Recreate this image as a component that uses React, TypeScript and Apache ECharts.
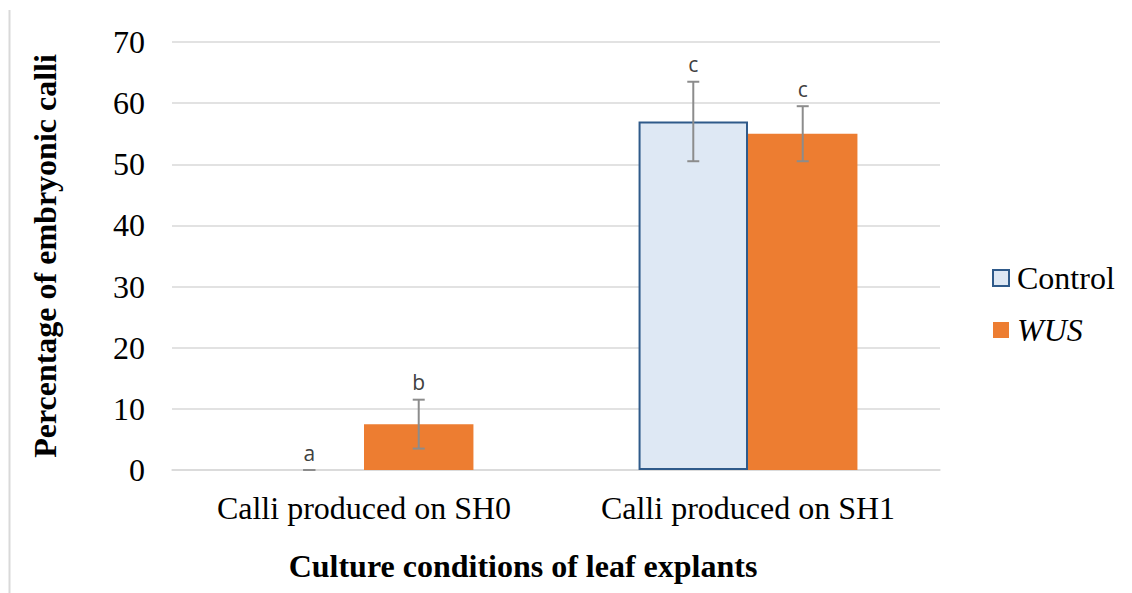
import React, { useEffect, useRef } from "react";
import * as echarts from "echarts";

const categories = ["Calli produced on SH0", "Calli produced on SH1"];
const seriesNames = ["Control", "WUS"];
const controlValues = [0, 57];
const wusValues = [7.5, 55];
const controlErrors = [0, 6.5];
const wusErrors = [4, 4.5];
const controlLetters = ["a", "c"];
const wusLetters = ["b", "c"];
const yTicks = [0, 10, 20, 30, 40, 50, 60, 70];

const GAP = 0.43;
const SERIF = "Liberation Serif";
const FS = 32;

export default function App() {
  const ref = useRef<HTMLDivElement>(null);
  useEffect(() => {
    document.body.style.margin = "0";
    const chart = echarts.init(ref.current!, null, { renderer: "svg" });
    const errData: any[] = [];
    [controlValues, wusValues].forEach((vals, s) => {
      const errs = s === 0 ? controlErrors : wusErrors;
      const letters = s === 0 ? controlLetters : wusLetters;
      vals.forEach((v, i) => {
        errData.push([i, v - errs[i], v + errs[i], s, letters[i]]);
      });
    });
    chart.setOption({
      animation: false,
      textStyle: { fontFamily: SERIF },
      grid: { left: 172, right: 192, top: 42, bottom: 123, outerBoundsMode: "none", containLabel: false },
      legend: {
        orient: "vertical",
        left: 992,
        top: 262,
        padding: 0,
        icon: "rect",
        itemWidth: 16,
        itemHeight: 16,
        itemGap: 20,
        data: seriesNames.map((n) => ({
          name: n,
          textStyle: {
            fontFamily: SERIF,
            fontSize: FS,
            color: "#000",
            fontStyle: n === "WUS" ? "italic" : "normal",
            padding: [0, 0, 0, 3],
          },
        })),
        textStyle: { fontFamily: SERIF, fontSize: FS, color: "#000" },
      },
      xAxis: {
        type: "category",
        data: categories,
        axisTick: { show: false },
        axisLine: { lineStyle: { color: "#d9d9d9", width: 1.5 } },
        axisLabel: { fontFamily: SERIF, fontSize: FS, color: "#000", margin: 22 },
        name: "Culture conditions of leaf explants",
        nameLocation: "middle",
        nameGap: 80,
        nameTextStyle: {
          fontFamily: SERIF,
          fontSize: FS,
          fontWeight: "bold",
          color: "#000",
          padding: [0, 66, 0, 0],
        },
      },
      yAxis: {
        type: "value",
        min: yTicks[0],
        max: yTicks[yTicks.length - 1],
        interval: 10,
        axisLine: { show: false },
        axisTick: { show: false },
        splitLine: { lineStyle: { color: "#d9d9d9", width: 1.5 } },
        axisLabel: { fontFamily: SERIF, fontSize: FS, color: "#000", margin: 27 },
        name: "Percentage of embryonic calli",
        nameLocation: "middle",
        nameGap: 111,
        nameTextStyle: { fontFamily: SERIF, fontSize: FS, fontWeight: "bold", color: "#000" },
      },
      graphic: [
        {
          type: "line",
          shape: { x1: 9.5, y1: 10, x2: 9.5, y2: 593 },
          style: { stroke: "#d9d9d9", lineWidth: 2 },
          silent: true,
        },
      ],
      series: [
        {
          name: "Control",
          type: "bar",
          data: controlValues.map((v) => ({
            value: v,
            itemStyle: v === 0 ? { borderWidth: 0 } : undefined,
          })),
          barGap: "0%",
          barCategoryGap: GAP * 100 + "%",
          itemStyle: { color: "#dee8f4", borderColor: "#2f5a8a", borderWidth: 2 },
        },
        {
          name: "WUS",
          type: "bar",
          data: wusValues,
          barGap: "0%",
          barCategoryGap: GAP * 100 + "%",
          itemStyle: { color: "#ed7d31" },
        },
        {
          type: "custom",
          silent: true,
          z: 10,
          data: errData,
          renderItem: (params: any, api: any) => {
            const cat = api.value(0);
            const lo = api.value(1);
            const hi = api.value(2);
            const s = api.value(3);
            const letter = errData[params.dataIndex][4];
            const band = api.size([1, 0])[0];
            const bw = (band * (1 - GAP)) / 2;
            const center = api.coord([cat, 0])[0];
            const x = center + (s === 0 ? -bw / 2 : bw / 2);
            const yLo = api.coord([cat, lo])[1];
            const yHi = api.coord([cat, hi])[1];
            const cap = 6;
            const st = { stroke: "#8c8c8c", lineWidth: 2 };
            return {
              type: "group",
              children: [
                { type: "line", shape: { x1: x, y1: yLo, x2: x, y2: yHi }, style: st },
                { type: "line", shape: { x1: x - cap, y1: yLo, x2: x + cap, y2: yLo }, style: st },
                { type: "line", shape: { x1: x - cap, y1: yHi, x2: x + cap, y2: yHi }, style: st },
                {
                  type: "text",
                  x: x,
                  y: yHi - 7,
                  style: {
                    text: letter,
                    fontFamily: "Open Sans",
                    fontSize: 21,
                    fill: "#404040",
                    align: "center",
                    verticalAlign: "bottom",
                  },
                },
              ],
            };
          },
        },
      ],
    });
    return () => chart.dispose();
  }, []);
  return <div ref={ref} style={{ width: 1132, height: 593 }} />;
}
